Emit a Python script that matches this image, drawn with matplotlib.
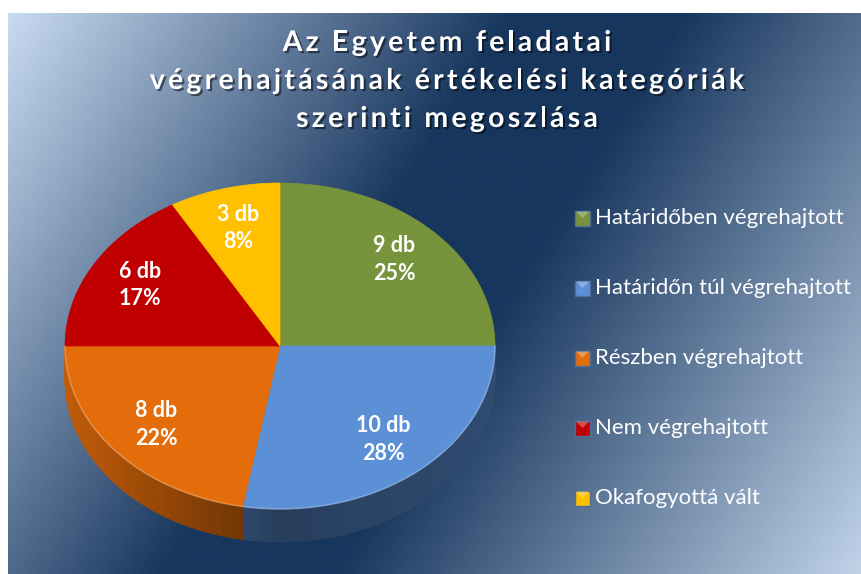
import numpy as np
import matplotlib
matplotlib.use("Agg")
import matplotlib.pyplot as plt
from matplotlib.patches import Polygon
from matplotlib.colors import LinearSegmentedColormap, to_rgb
from matplotlib.font_manager import FontProperties
import matplotlib.patheffects as pe

# ---- data ----
categories = ["Határidőben végrehajtott", "Határidőn túl végrehajtott",
              "Részben végrehajtott", "Nem végrehajtott", "Okafogyottá vált"]
counts = [9, 10, 8, 6, 3]
colors = ["#77933c", "#5b8fd6", "#e46c0a", "#c00000", "#ffc000"]
title_lines = ["Az Egyetem feladatai",
               "végrehajtásának értékelési kategóriák",
               "szerinti megoszlása"]

FONT = ["Lato", "DejaVu Sans"]
W, H = 862, 574

fig = plt.figure(figsize=(W / 100, H / 100), dpi=100, facecolor="white")
ax = fig.add_axes([0, 0, 1, 1])
ax.set_xlim(0, W)
ax.set_ylim(H, 0)
ax.axis("off")

# ---- background gradient (light -> navy -> light) ----
bx0, by0 = 8, 13
gx, gy = np.meshgrid(np.linspace(0, 1, 400), np.linspace(0, 1, 300))
ang = np.deg2rad(32)
tt = gx * (W - bx0) * np.cos(ang) + gy * (H - by0) * np.sin(ang)
tt = tt / tt.max()
bg_cmap = LinearSegmentedColormap.from_list(
    "bg", [(0.0, "#c8daf1"), (0.42, "#17365d"), (0.56, "#17365d"), (1.0, "#bfd2e8")])
ax.imshow(tt, cmap=bg_cmap, extent=[bx0, W, H, by0], aspect="auto",
          interpolation="bilinear", zorder=0)

# ---- 3D-ish pie ----
cx, cy, a, b, depth = 280, 346, 215, 163, 33


def ell(t, dy=0.0):
    return cx + a * np.cos(t), cy - b * np.sin(t) + dy


total = sum(counts)
edges = 90 - np.concatenate([[0], np.cumsum(counts)]) * 360.0 / total


def side_factor(td):
    c = np.cos(np.deg2rad(td))
    return 0.43 + 0.42 * max(0.0, -c) + 0.1 * max(0.0, c)


# side walls (front half only)
for i, col in enumerate(colors):
    t1, t2 = edges[i], edges[i + 1]
    lo, hi = max(t2, -180), min(t1, 0)
    if lo >= hi:
        continue
    steps = np.linspace(lo, hi, 60)
    base = np.array(to_rgb(col))
    for s0, s1 in zip(steps[:-1], steps[1:]):
        ts = np.deg2rad(np.linspace(s0, s1, 3))
        xs, ys = ell(ts)
        xb, yb = ell(ts[::-1], depth)
        pts = np.column_stack([np.r_[xs, xb], np.r_[ys, yb]])
        fc = np.clip(base * side_factor((s0 + s1) / 2), 0, 1)
        ax.add_patch(Polygon(pts, closed=True, facecolor=fc, edgecolor=fc,
                             linewidth=0.6, zorder=2))

# top faces
for i, col in enumerate(colors):
    t1, t2 = edges[i], edges[i + 1]
    ts = np.deg2rad(np.linspace(t1, t2, 120))
    xs, ys = ell(ts)
    pts = np.column_stack([np.r_[cx, xs], np.r_[cy, ys]])
    ax.add_patch(Polygon(pts, closed=True, facecolor=col, edgecolor=col,
                         linewidth=0.5, zorder=3))

# light rim along front edge
ts = np.deg2rad(np.linspace(-180, 0, 200))
xs, ys = ell(ts)
ax.plot(xs, ys, color="white", alpha=0.25, linewidth=1.2, zorder=4)

# data labels
for i, c in enumerate(counts):
    mid = np.deg2rad((edges[i] + edges[i + 1]) / 2)
    lx = cx + 0.75 * a * np.cos(mid)
    ly = cy - 0.75 * b * np.sin(mid)
    pct = round(100 * c / total)
    ax.text(lx, ly, f"{c} db\n{pct}%", color="white", fontsize=15.5,
            fontweight="bold", family=FONT, ha="center", va="center",
            linespacing=1.38, zorder=5)

# ---- title (letter-spaced, with shadow) ----
renderer = fig.canvas.get_renderer()
tprop = FontProperties(family=FONT, weight="bold", size=20.5)
spacing = 3.2
shadow = [pe.withSimplePatchShadow(offset=(1.5, -1.5), shadow_rgbFace="black", alpha=0.5)]


def text_w(s):
    if not s:
        return 0.0
    return renderer.get_text_width_height_descent(s, tprop, ismath=False)[0]


for k, line in enumerate(title_lines):
    base_y = 51 + k * 38
    full = text_w(line) + spacing * (len(line) - 1)
    x_start = 447 - full / 2
    for j, ch in enumerate(line):
        if ch == " ":
            continue
        xj = x_start + text_w(line[:j]) + spacing * j
        ax.text(xj, base_y, ch, color="white", fontproperties=tprop,
                ha="left", va="baseline", zorder=5, path_effects=shadow)

# ---- legend ----
row_y0, row_gap = 218, 70
for i, (lab, col) in enumerate(zip(categories, colors)):
    y = row_y0 + i * row_gap
    x0, s = 575, 15
    sq = [(x0, y - s / 2), (x0 + s, y - s / 2), (x0 + s, y + s / 2), (x0, y + s / 2)]
    ax.add_patch(Polygon(sq, closed=True, facecolor=col, edgecolor="#4f6f99",
                         linewidth=1.0, zorder=5))
    light = np.clip(np.array(to_rgb(col)) * 0.5 + 0.5, 0, 1)
    tri = [(x0 + 1, y - s / 2 + 1), (x0 + s - 1, y - s / 2 + 1), (x0 + s / 2, y)]
    ax.add_patch(Polygon(tri, closed=True, facecolor=light, edgecolor="none",
                         alpha=0.6, zorder=6))
    ax.text(x0 + s + 5, y, lab, color="white", fontsize=16, family=FONT,
            ha="left", va="center", zorder=5)

fig.savefig("out.png", dpi=100, facecolor="white")
